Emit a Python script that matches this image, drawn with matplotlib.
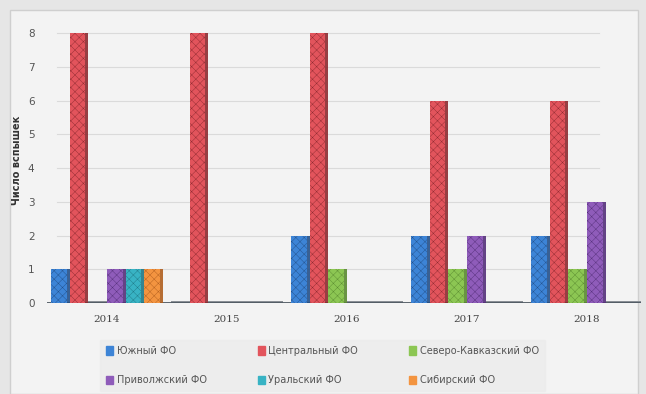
import matplotlib.pyplot as plt
import matplotlib.patches as mpatches
import numpy as np

# data
years = ['2014', '2015', '2016', '2017', '2018']
districts = ['Южный ФО', 'Центральный ФО', 'Северо-Кавказский ФО',
             'Приволжский ФО', 'Уральский ФО', 'Сибирский ФО']
south = [1, 0, 2, 2, 2]
central = [8, 8, 8, 6, 6]
north_caucasus = [0, 0, 1, 1, 1]
volga = [1, 0, 0, 2, 3]
ural = [1, 0, 0, 0, 0]
siberia = [1, 0, 0, 0, 0]
series = [south, central, north_caucasus, volga, ural, siberia]
colors = ['#3d84d6', '#e2545c', '#8cc653', '#8f5cba', '#38b3c4', '#f39440']
side_colors = ['#23508a', '#8e2a30', '#5a8a30', '#55307a', '#1f7886', '#b05e1e']

plt.rcParams['hatch.linewidth'] = 0.3

fig = plt.figure(figsize=(6.46, 3.94), dpi=100)
fig.patch.set_facecolor('#e6e6e6')
# light panel like the screenshot
fig.patches.append(mpatches.Rectangle((10 / 646, 0), 628 / 646, 384 / 394,
                                      transform=fig.transFigure,
                                      facecolor='#f3f3f3', edgecolor='#cfcfcf',
                                      lw=1, zorder=-5))

ax = fig.add_axes([47 / 646, 91 / 394, 594 / 646, 280 / 394])
ax.set_facecolor('none')

x = np.arange(len(years))
w = 0.155
offsets = (np.arange(6) - 2.5) * w

for i, vals in enumerate(series):
    vals = np.array(vals, dtype=float)
    pos = x + offsets[i]
    ax.bar(pos - w * 0.08, vals, width=w * 0.84, color=colors[i], align='center',
           edgecolor=side_colors[i], linewidth=0, hatch='xxxx', zorder=3)
    # darker side face for the 3D look
    ax.bar(pos + w * 0.42, vals, width=w * 0.16, color=side_colors[i],
           linewidth=0, zorder=3, alpha=0.9)
    # flat slabs for zero values
    zero = vals == 0
    ax.bar(pos[zero], np.full(zero.sum(), 0.07), width=w, color='#8a8f95',
           linewidth=0, zorder=2)

for yv in range(1, 9):
    ax.plot([-0.42, 4.1], [yv, yv], color='#dadada', lw=0.8, zorder=1)
ax.axhline(0, color='#4d5861', lw=2, zorder=2)

ax.set_xlim(-0.5, 4.45)
ax.set_ylim(0, 8.3)
ax.set_xticks(x)
ax.set_xticklabels(years, fontsize=7.5, color='#444444', family='DejaVu Serif')
ax.set_yticks(range(0, 9))
ax.set_yticklabels([str(v) for v in range(0, 9)], fontsize=7.5, color='#555555')
ax.tick_params(length=0)
ax.tick_params(axis='x', pad=9)
ax.tick_params(axis='y', pad=9)
for s in ax.spines.values():
    s.set_visible(False)

fig.text(17 / 646, 1 - 160 / 394, 'Число вспышек', rotation=90,
         ha='center', va='center', fontsize=7, fontweight='bold',
         color='#333333')

# legend ordered row-wise like the reference
handles = [mpatches.Patch(color=c) for c in colors]
order = [0, 3, 1, 4, 2, 5]
leg = fig.legend([handles[k] for k in order], [districts[k] for k in order],
                 loc='upper left',
                 bbox_to_anchor=(100 / 646, 1 - 340 / 394, 445 / 646, 0),
                 mode='expand', ncol=3, fontsize=7, frameon=True,
                 handlelength=0.7, handleheight=0.9, handletextpad=0.4,
                 labelspacing=2.0, borderaxespad=0, borderpad=0.6)
leg.get_frame().set_facecolor('#ececec')
leg.get_frame().set_edgecolor('#ececec')
leg.get_frame().set_boxstyle('square', pad=0)
for t in leg.get_texts():
    t.set_color('#555555')

fig.savefig('out.png', dpi=100, facecolor=fig.get_facecolor())
